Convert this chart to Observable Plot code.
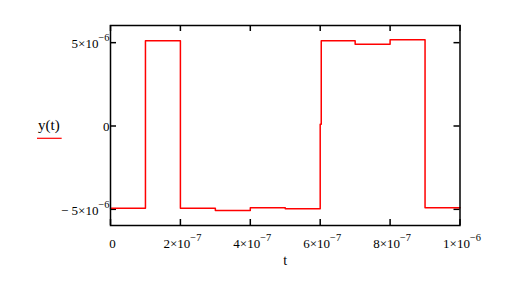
<!DOCTYPE html>
<html><head><meta charset="utf-8">
<script src="https://cdn.jsdelivr.net/npm/d3@7"></script>
<script src="https://cdn.jsdelivr.net/npm/@observablehq/plot@0.6"></script>
<style>html,body{margin:0;padding:0;background:#fff}#chart svg{display:block}</style>
</head><body><div id="chart"></div>
<script>
// sample times (s) and values of y(t)
const tValues = [0, 1e-7, 2e-7, 3e-7, 4e-7, 5e-7, 6e-7, 6.03e-7, 7e-7, 8e-7, 9e-7, 1e-6];
const yValues = [-4.93e-6, 5.11e-6, -4.93e-6, -5.07e-6, -4.90e-6, -4.96e-6, 0.1e-6, 5.11e-6, 4.91e-6, 5.17e-6, -4.90e-6, -4.90e-6];
// axis ticks
const xTicks = [0, 2e-7, 4e-7, 6e-7, 8e-7, 1e-6];
const xTickLabels = ["0", "2×10^−7", "4×10^−7", "6×10^−7", "8×10^−7", "1×10^−6"];
const yTicks = [-5e-6, 0, 5e-6];
const yTickLabels = ["− 5×10^−6", "0", "5×10^−6"];
const xLabel = "t";
const yLabel = "y(t)";

const W = 521, H = 285;
const mL = 110, mR = 61.5, mT = 25, mB = 60;
const innerW = W - mL - mR, innerH = H - mT - mB;
const data = tValues.map((t, i) => ({t, y: yValues[i]}));
const FONT = "'Liberation Serif', 'Times New Roman', serif";

const chart = Plot.plot({
  width: W, height: H,
  marginLeft: mL, marginRight: mR, marginTop: mT, marginBottom: mB,
  style: {fontFamily: FONT, fontSize: "13px", color: "#000", background: "#fff"},
  x: {domain: [0, 1e-6]},
  y: {domain: [-5.97e-6, 6.03e-6]},
  marks: [
    Plot.axisX(xTicks, {anchor: "bottom", tickSize: 0, tickPadding: 13, dx: 2, label: null, fontSize: 13,
      tickFormat: d => xTickLabels[xTicks.indexOf(d)]}),
    Plot.axisY(yTicks, {anchor: "left", tickSize: 0, tickPadding: 1, dy: 1, label: null, fontSize: 13,
      tickFormat: d => yTickLabels[yTicks.indexOf(d)]}),
    Plot.tickX(xTicks, {x: d => d, insetTop: innerH - 6, stroke: "#000", strokeWidth: 1.5}),
    Plot.tickX(xTicks, {x: d => d, insetBottom: innerH - 6, stroke: "#000", strokeWidth: 1.5}),
    Plot.tickY(yTicks, {y: d => d, insetRight: innerW - 6, stroke: "#000", strokeWidth: 1.5}),
    Plot.tickY(yTicks, {y: d => d, insetLeft: innerW - 6, stroke: "#000", strokeWidth: 1.5}),
    Plot.line(data, {x: "t", y: "y", curve: "step-after", stroke: "#ff0000", strokeWidth: 1.5}),
    Plot.frame({stroke: "#000", strokeWidth: 1.5}),
    Plot.text([yLabel], {text: d => d, frameAnchor: "left", dx: -72.5, dy: -0.5, fontSize: 15}),
    Plot.text([xLabel], {text: d => d, frameAnchor: "bottom", dy: 39, fontSize: 14})
  ]
});
document.getElementById("chart").appendChild(chart);

// superscript exponents in tick labels
d3.select(chart).selectAll('g[aria-label$="tick label"] text').each(function () {
  const s = this.textContent;
  const k = s.indexOf("^");
  if (k < 0) return;
  const el = d3.select(this);
  el.text(null);
  el.append("tspan").text(s.slice(0, k));
  el.append("tspan").attr("dy", "-7").attr("font-size", "0.8em").text(s.slice(k + 1));
});

// red underline under the y label
d3.select(chart).selectAll("text").each(function () {
  if (this.textContent !== yLabel) return;
  const b = this.getBBox();
  const tr = this.getAttribute("transform");
  const ln = d3.select(this.parentNode).append("line")
    .attr("x1", b.x - 1).attr("x2", b.x + b.width + 2)
    .attr("y1", b.y + b.height + 4.5).attr("y2", b.y + b.height + 4.5)
    .attr("stroke", "#ff0000").attr("stroke-width", 1.2);
  if (tr) ln.attr("transform", tr);
});
</script>
</body></html>
